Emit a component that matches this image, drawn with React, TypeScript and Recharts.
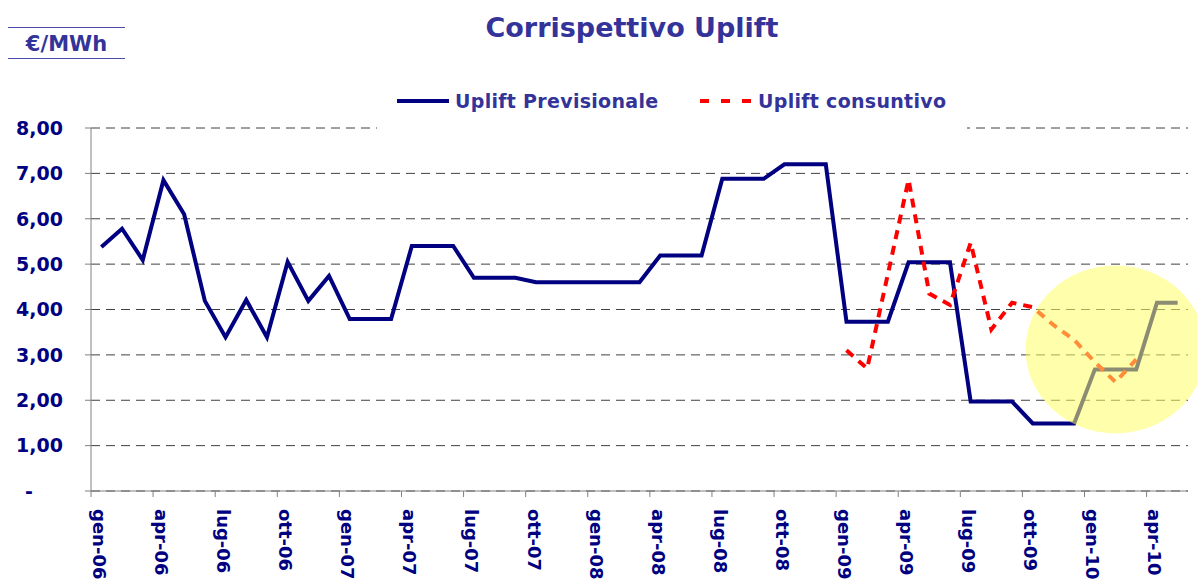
import React from 'react';
import { LineChart, Line, XAxis, YAxis, CartesianGrid, Legend, ReferenceDot } from 'recharts';

const months = [
  'gen-06', 'feb-06', 'mar-06', 'apr-06', 'mag-06', 'giu-06', 'lug-06', 'ago-06', 'set-06', 'ott-06', 'nov-06', 'dic-06',
  'gen-07', 'feb-07', 'mar-07', 'apr-07', 'mag-07', 'giu-07', 'lug-07', 'ago-07', 'set-07', 'ott-07', 'nov-07', 'dic-07',
  'gen-08', 'feb-08', 'mar-08', 'apr-08', 'mag-08', 'giu-08', 'lug-08', 'ago-08', 'set-08', 'ott-08', 'nov-08', 'dic-08',
  'gen-09', 'feb-09', 'mar-09', 'apr-09', 'mag-09', 'giu-09', 'lug-09', 'ago-09', 'set-09', 'ott-09', 'nov-09', 'dic-09',
  'gen-10', 'feb-10', 'mar-10', 'apr-10', 'mag-10',
];

// €/MWh
const upliftPrevisionale = [
  5.38, 5.78, 5.09, 6.85, 6.10, 4.19, 3.39, 4.21, 3.39, 5.05, 4.19, 4.74,
  3.79, 3.79, 3.79, 5.40, 5.40, 5.40, 4.70, 4.70, 4.70, 4.60, 4.60, 4.60,
  4.60, 4.60, 4.60, 5.19, 5.19, 5.19, 6.88, 6.88, 6.88, 7.20, 7.20, 7.20,
  3.73, 3.73, 3.73, 5.04, 5.04, 5.04, 1.97, 1.97, 1.97, 1.49, 1.49, 1.49,
  2.68, 2.68, 2.68, 4.15, 4.15,
];

const upliftConsuntivo: (number | null)[] = [
  null, null, null, null, null, null, null, null, null, null, null, null,
  null, null, null, null, null, null, null, null, null, null, null, null,
  null, null, null, null, null, null, null, null, null, null, null, null,
  3.10, 2.70, 4.78, 6.86, 4.35, 4.10, 5.47, 3.56, 4.15, 4.05, 3.66, 3.33,
  2.84, 2.40, 2.90, null, null,
];

const yTicks = [0, 1, 2, 3, 4, 5, 6, 7, 8];

// highlighted area (yellow ellipse)
const highlightMonth = 'feb-10';
const highlightValue = 3.12;

const W = 1197;
const H = 587;
const MARGIN = { top: 128, right: 9, bottom: 0, left: 0 };
const Y_AXIS_W = 91;
const X_AXIS_H = 96;
const BAND = (W - MARGIN.left - MARGIN.right - Y_AXIS_W) / months.length;

const NAVY = '#000080';
const INDIGO = '#333399';
const FONT = '"DejaVu Sans", Verdana, sans-serif';

const data = months.map((m, i) => ({
  month: m,
  previsionale: upliftPrevisionale[i],
  consuntivo: upliftConsuntivo[i],
}));

function YTick({ x, y, payload }: any) {
  const v = payload.value;
  return (
    <text
      x={v === 0 ? x - 30 : x}
      y={y}
      dy="0.36em"
      textAnchor="end"
      fill={NAVY}
      fontSize={19}
      fontWeight="bold"
      fontFamily={FONT}
    >
      {v === 0 ? '-' : v.toFixed(2).replace('.', ',')}
    </text>
  );
}

function XTick({ x, y, payload }: any) {
  const edge = x - BAND / 2;
  return (
    <g>
      <line x1={edge} y1={y} x2={edge} y2={y + 6} stroke="#808080" />
      <text
        transform={`translate(${x - 2},${y + 18}) rotate(90)`}
        dy="0.36em"
        textAnchor="start"
        fill={NAVY}
        fontSize={18}
        fontWeight="bold"
        fontFamily={FONT}
      >
        {payload.value}
      </text>
    </g>
  );
}

const legendOffsets = [20, 323];

function LegendContent({ payload }: any) {
  return (
    <div style={{ position: 'relative', width: '100%', height: '100%' }}>
      {(payload || []).map((entry: any, i: number) => (
        <div
          key={entry.value}
          style={{
            position: 'absolute',
            left: legendOffsets[i],
            top: 10,
            display: 'flex',
            alignItems: 'center',
            whiteSpace: 'nowrap',
          }}
        >
          <svg width={52} height={10} style={{ marginRight: 6 }}>
            <line
              x1={0}
              y1={5}
              x2={52}
              y2={5}
              stroke={entry.color}
              strokeWidth={4}
              strokeDasharray={i === 1 ? '9 12' : undefined}
            />
          </svg>
          <span style={{ color: INDIGO, fontSize: 19, fontWeight: 'bold', fontFamily: FONT, letterSpacing: 0.3 }}>
            {entry.value}
          </span>
        </div>
      ))}
    </div>
  );
}

function Ellipse({ cx, cy }: any) {
  return <ellipse cx={cx} cy={cy} rx={90} ry={84} fill="#FFFF66" fillOpacity={0.55} />;
}

export default function App() {
  return (
    <div style={{ position: 'relative', width: W, height: H, background: '#fff', fontFamily: FONT }}>
      <style>{'body{margin:0}'}</style>
      <LineChart width={W} height={H} data={data} margin={MARGIN}>
        <CartesianGrid vertical={false} strokeDasharray="9 6" stroke="#404040" />
        <XAxis
          dataKey="month"
          interval={2}
          height={X_AXIS_H}
          padding={{ left: BAND / 2, right: BAND / 2 }}
          tickLine={false}
          tickSize={0}
          tickMargin={0}
          tick={<XTick />}
          axisLine={{ stroke: '#808080' }}
        />
        <YAxis
          domain={[0, 8]}
          ticks={yTicks}
          width={Y_AXIS_W}
          tickSize={6}
          tickMargin={22}
          tick={<YTick />}
          tickLine={{ stroke: '#808080' }}
          axisLine={{ stroke: '#808080' }}
        />
        <Legend
          layout="horizontal"
          verticalAlign="middle"
          align="center"
          content={<LegendContent />}
          wrapperStyle={{ left: 377, top: 80, width: 590, height: 50, backgroundColor: '#fff' }}
        />
        <Line
          type="linear"
          dataKey="previsionale"
          name="Uplift Previsionale"
          stroke={NAVY}
          strokeWidth={4}
          dot={false}
          isAnimationActive={false}
        />
        <Line
          type="linear"
          dataKey="consuntivo"
          name="Uplift consuntivo"
          stroke="#FF0000"
          strokeWidth={4}
          strokeDasharray="9 7"
          dot={false}
          isAnimationActive={false}
        />
        <ReferenceDot x={highlightMonth} y={highlightValue} ifOverflow="visible" shape={<Ellipse />} />
      </LineChart>
      <div
        style={{
          position: 'absolute',
          left: 332,
          width: 600,
          top: 14,
          textAlign: 'center',
          fontSize: 27,
          lineHeight: '27px',
          fontWeight: 'bold',
          color: INDIGO,
        }}
      >
        Corrispettivo Uplift
      </div>
      <div
        style={{
          position: 'absolute',
          left: 8,
          width: 117,
          top: 27,
          height: 32,
          boxSizing: 'border-box',
          borderTop: '1px solid #4a4aa8',
          borderBottom: '1px solid #4a4aa8',
          textAlign: 'center',
          fontSize: 21,
          lineHeight: '32px',
          fontWeight: 'bold',
          color: INDIGO,
        }}
      >
        €/MWh
      </div>
    </div>
  );
}
